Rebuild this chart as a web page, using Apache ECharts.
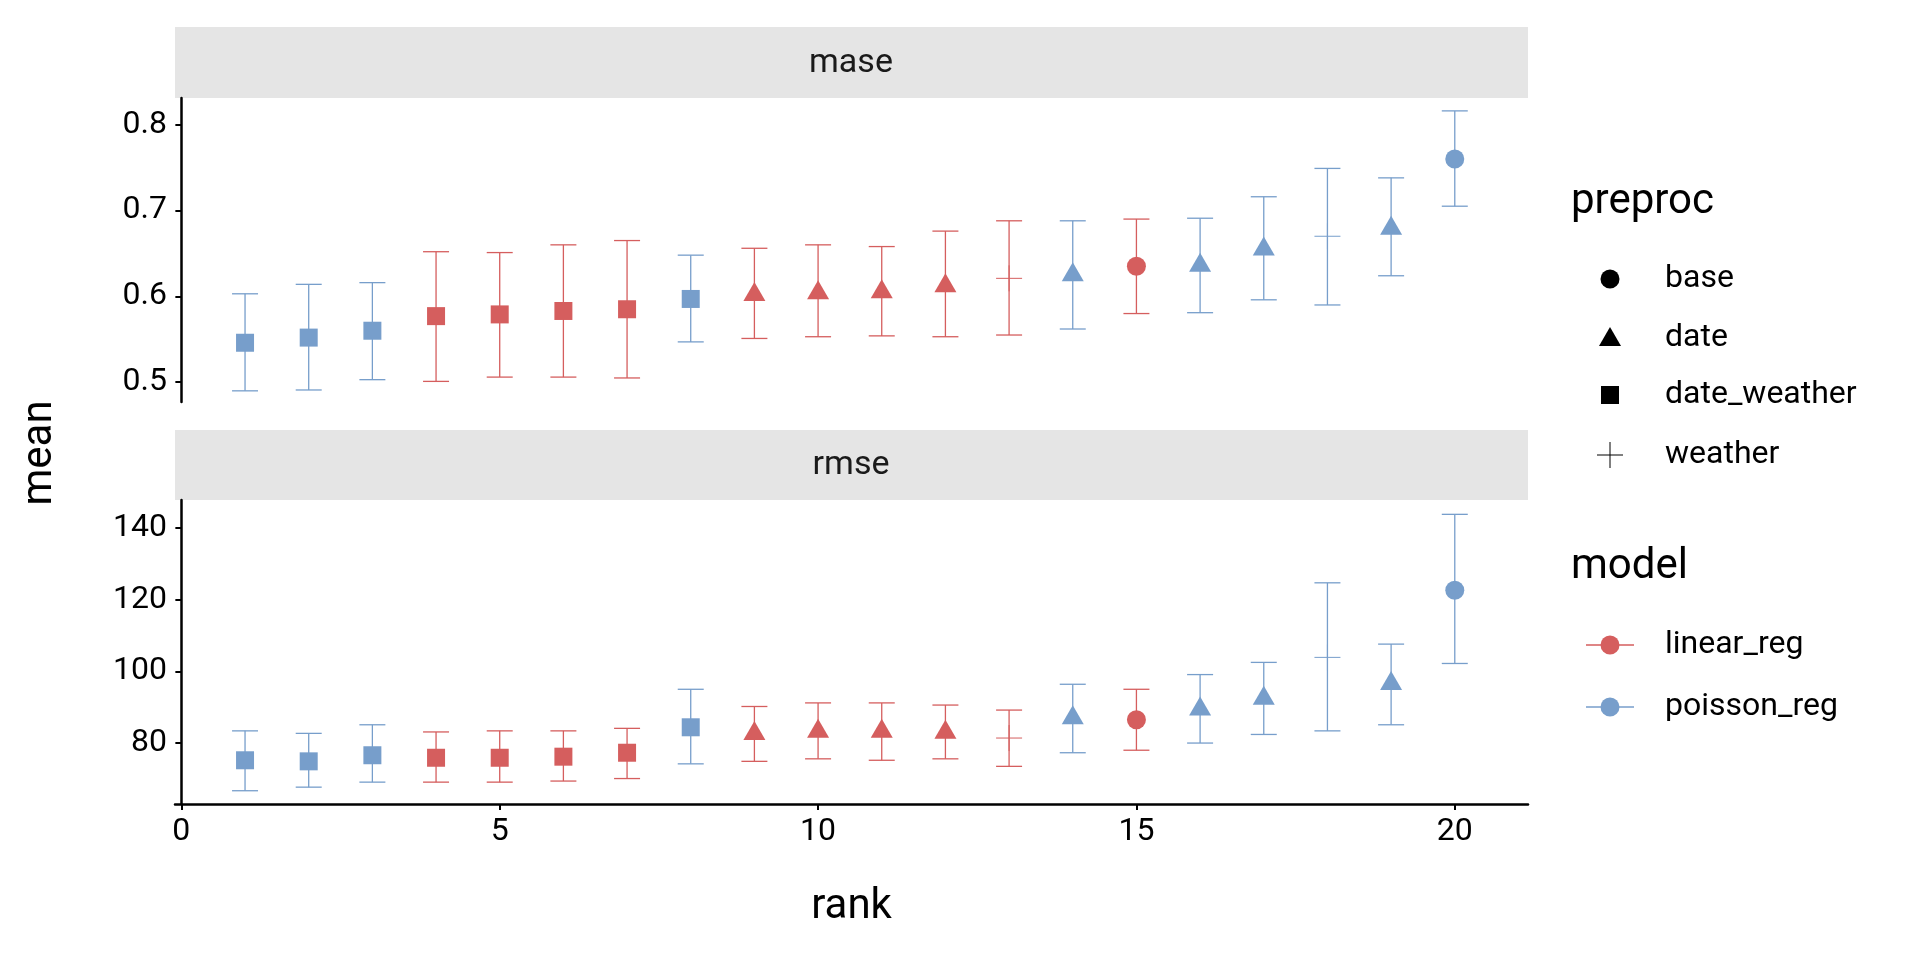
<!DOCTYPE html>
<html>
<head>
<meta charset="utf-8">
<script src="https://cdn.jsdelivr.net/npm/echarts@6/dist/echarts.min.js"></script>
<style>html,body{margin:0;padding:0;background:#fff}#chart{width:1920px;height:960px}</style>
</head>
<body>
<div id="chart"></div>
<script>
var FONT = '"Liberation Sans Narrow","Roboto",sans-serif';
var RED = '#D55E5E', BLUE = '#779ECB';

var ranks   = [1,2,3,4,5,6,7,8,9,10,11,12,13,14,15,16,17,18,19,20];
var models  = ['poisson_reg','poisson_reg','poisson_reg','linear_reg','linear_reg','linear_reg','linear_reg','poisson_reg','linear_reg','linear_reg',
               'linear_reg','linear_reg','linear_reg','poisson_reg','linear_reg','poisson_reg','poisson_reg','poisson_reg','poisson_reg','poisson_reg'];
var preprocs = ['date_weather','date_weather','date_weather','date_weather','date_weather','date_weather','date_weather','date_weather','date','date',
                'date','date','weather','date','base','date','date','weather','date','base'];
// mase
var maseMean = [0.546,0.552,0.560,0.577,0.579,0.583,0.585,0.597,0.604,0.606,0.607,0.614,0.621,0.627,0.635,0.638,0.657,0.670,0.681,0.760];
var maseLo   = [0.490,0.491,0.503,0.501,0.506,0.506,0.505,0.547,0.551,0.553,0.554,0.553,0.555,0.562,0.580,0.581,0.596,0.590,0.624,0.705];
var maseHi   = [0.603,0.614,0.616,0.652,0.651,0.660,0.665,0.648,0.656,0.660,0.658,0.676,0.688,0.688,0.690,0.691,0.716,0.749,0.738,0.816];
// rmse
var rmseMean = [75.2,74.9,76.6,75.9,75.9,76.2,77.3,84.4,83.1,83.7,83.7,83.4,81.4,87.5,86.5,89.9,92.9,103.9,97.0,122.6];
var rmseLo   = [66.7,67.7,69.1,69.1,69.1,69.4,70.1,74.2,74.9,75.6,75.2,75.6,73.5,77.3,78.0,80.0,82.4,83.4,85.1,102.2];
var rmseHi   = [83.4,82.7,85.1,83.1,83.4,83.4,84.1,95.0,90.2,91.2,91.2,90.6,89.2,96.4,95.0,99.1,102.5,124.7,107.6,143.8];

function shape(preproc, x, y, color) {
  if (preproc === 'base') return {type:'circle', shape:{cx:x, cy:y, r:9.5}, style:{fill:color}};
  if (preproc === 'date') return {type:'polygon', shape:{points:[[x,y-11],[x+11,y+8],[x-11,y+8]]}, style:{fill:color}};
  if (preproc === 'date_weather') return {type:'rect', shape:{x:x-9, y:y-9, width:18, height:18}, style:{fill:color}};
  return {type:'group', children:[
    {type:'line', shape:{x1:x-13, y1:y, x2:x+13, y2:y}, style:{stroke:color, lineWidth:1}},
    {type:'line', shape:{x1:x, y1:y-13, x2:x, y2:y+13}, style:{stroke:color, lineWidth:1}}
  ]};
}

function renderItem(params, api) {
  var i = params.dataIndex;
  var x = api.value(0);
  var pm = api.coord([x, api.value(1)]);
  var pl = api.coord([x, api.value(2)]);
  var ph = api.coord([x, api.value(3)]);
  var color = models[i] === 'linear_reg' ? RED : BLUE;
  var hw = 13;
  var st = {stroke: color, lineWidth: 1.3};
  return {type:'group', children:[
    {type:'line', shape:{x1:pm[0], y1:pl[1], x2:pm[0], y2:ph[1]}, style:st},
    {type:'line', shape:{x1:pm[0]-hw, y1:pl[1], x2:pm[0]+hw, y2:pl[1]}, style:st},
    {type:'line', shape:{x1:pm[0]-hw, y1:ph[1], x2:pm[0]+hw, y2:ph[1]}, style:st},
    shape(preprocs[i], pm[0], pm[1], color)
  ]};
}

function makeData(mean, lo, hi) {
  return ranks.map(function (r, i) { return [r, mean[i], lo[i], hi[i]]; });
}
var maseData = makeData(maseMean, maseLo, maseHi);
var rmseData = makeData(rmseMean, rmseLo, rmseHi);

var tickLabel = {color:'#000', fontFamily:FONT, fontSize:32, margin:8};
var axisLine = {show:true, lineStyle:{color:'#000', width:2.5}};
function ticks(vals) { return {show:true, length:6, customValues:vals, lineStyle:{color:'#000', width:2}}; }

var chart = echarts.init(document.getElementById('chart'));
var graphics = [
  {type:'rect', shape:{x:175, y:27, width:1353, height:71}, style:{fill:'#E5E5E5'}},
  {type:'text', x:851, y:63, style:{text:'mase', font:'34px ' + FONT, fill:'#1a1a1a', align:'center', verticalAlign:'middle'}},
  {type:'rect', shape:{x:175, y:430, width:1353, height:70}, style:{fill:'#E5E5E5'}},
  {type:'text', x:851, y:465, style:{text:'rmse', font:'34px ' + FONT, fill:'#1a1a1a', align:'center', verticalAlign:'middle'}},
  {type:'text', x:1571, y:202, style:{text:'preproc', font:'42px ' + FONT, fill:'#000', verticalAlign:'middle'}},
  {type:'text', x:1571, y:567, style:{text:'model', font:'42px ' + FONT, fill:'#000', verticalAlign:'middle'}},
  {type:'text', x:40, y:453, rotation:Math.PI/2, style:{text:'mean', font:'42px ' + FONT, fill:'#000', align:'center', verticalAlign:'middle'}}
];
var pre = ['base','date','date_weather','weather'], preY = [279,338,395,455];
pre.forEach(function (p, i) {
  graphics.push(shape(p, 1610, preY[i], '#000'));
  graphics.push({type:'text', x:1665, y:preY[i], style:{text:p, font:'32px ' + FONT, fill:'#000', verticalAlign:'middle'}});
});
var mods = ['linear_reg','poisson_reg'], modY = [645,707];
mods.forEach(function (m, i) {
  var c = m === 'linear_reg' ? RED : BLUE;
  graphics.push({type:'line', shape:{x1:1586, y1:modY[i], x2:1634, y2:modY[i]}, style:{stroke:c, lineWidth:1.5}});
  graphics.push({type:'circle', shape:{cx:1610, cy:modY[i], r:9.5}, style:{fill:c}});
  graphics.push({type:'text', x:1665, y:modY[i], style:{text:m, font:'32px ' + FONT, fill:'#000', verticalAlign:'middle'}});
});

chart.setOption({
  animation: false,
  backgroundColor: '#fff',
  graphic: graphics,
  grid: [
    {left:175, top:98, width:1353, height:304},
    {left:175, top:500, width:1353, height:304}
  ],
  xAxis: [
    {gridIndex:0, type:'value', min:-0.1, max:21.15, axisLine:{show:false}, axisTick:{show:false}, axisLabel:{show:false}, splitLine:{show:false}},
    {gridIndex:1, type:'value', min:-0.1, max:21.15, axisLine:axisLine, axisTick:ticks([0,5,10,15,20]),
     axisLabel:{color:'#000', fontFamily:FONT, fontSize:32, margin:12, customValues:[0,5,10,15,20]},
     splitLine:{show:false},
     name:'rank', nameLocation:'middle', nameGap:82, nameTextStyle:{color:'#000', fontFamily:FONT, fontSize:42}}
  ],
  yAxis: [
    {gridIndex:0, type:'value', min:0.477, max:0.831, axisLine:axisLine, axisTick:ticks([0.5,0.6,0.7,0.8]),
     axisLabel:Object.assign({customValues:[0.5,0.6,0.7,0.8], formatter:function(v){return v.toFixed(1);}}, tickLabel), splitLine:{show:false}},
    {gridIndex:1, type:'value', min:63, max:147.8, axisLine:axisLine, axisTick:ticks([80,100,120,140]),
     axisLabel:Object.assign({customValues:[80,100,120,140]}, tickLabel), splitLine:{show:false}}
  ],
  series: [
    {type:'custom', xAxisIndex:0, yAxisIndex:0, renderItem:renderItem, encode:{x:0, y:[1,2,3]}, data:maseData},
    {type:'custom', xAxisIndex:1, yAxisIndex:1, renderItem:renderItem, encode:{x:0, y:[1,2,3]}, data:rmseData}
  ]
});
</script>
</body>
</html>
